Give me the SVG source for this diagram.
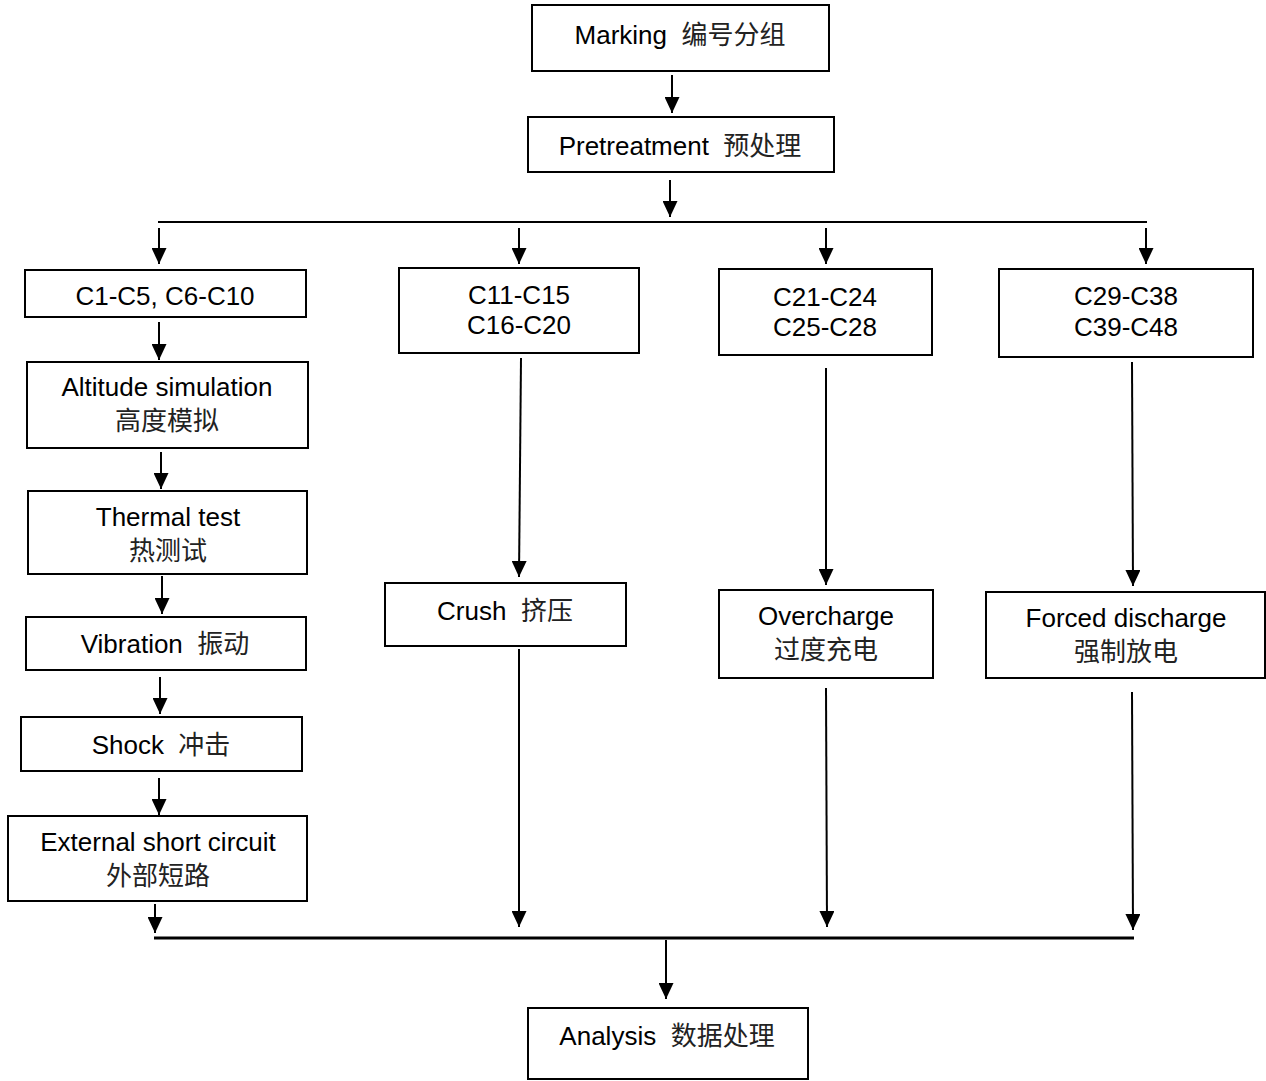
<svg xmlns="http://www.w3.org/2000/svg" width="1266" height="1081" viewBox="0 0 1266 1081">
<style>
  .box { fill: #ffffff; stroke: #000000; stroke-width: 2; }
  .t { font-family: "Liberation Sans", "Noto Sans CJK SC", sans-serif; font-size: 26px; fill: #000000; text-anchor: middle; white-space: pre; }
  .zh { font-family: "Noto Sans CJK SC", sans-serif; fill: #222222; }
  .ln { stroke: #000000; stroke-width: 2; fill: none; }
  .bus { stroke: #000000; stroke-width: 3; fill: none; }
</style>
<defs>
  <marker id="ah" markerUnits="userSpaceOnUse" markerWidth="16" markerHeight="15" refX="16" refY="7.5" orient="auto">
    <path d="M0,0 L16,7.5 L0,15 Z" fill="#000000"/>
  </marker>
</defs>
<rect width="1266" height="1081" fill="#ffffff"/>

<g id="connectors">
  <line class="ln" x1="672" y1="75" x2="672" y2="113" marker-end="url(#ah)"/>
  <line class="ln" x1="670" y1="180" x2="670" y2="217" marker-end="url(#ah)"/>
  <line class="ln" x1="158" y1="222" x2="1147" y2="222"/>
  <line class="ln" x1="159" y1="228" x2="159" y2="264" marker-end="url(#ah)"/>
  <line class="ln" x1="519" y1="228" x2="519" y2="264" marker-end="url(#ah)"/>
  <line class="ln" x1="826" y1="228" x2="826" y2="264" marker-end="url(#ah)"/>
  <line class="ln" x1="1146" y1="228" x2="1146" y2="264" marker-end="url(#ah)"/>
  <line class="ln" x1="159" y1="322" x2="159" y2="360" marker-end="url(#ah)"/>
  <line class="ln" x1="161" y1="452" x2="161" y2="489" marker-end="url(#ah)"/>
  <line class="ln" x1="162" y1="576" x2="162" y2="614" marker-end="url(#ah)"/>
  <line class="ln" x1="160" y1="677" x2="160" y2="714" marker-end="url(#ah)"/>
  <line class="ln" x1="159" y1="778" x2="159" y2="815" marker-end="url(#ah)"/>
  <line class="ln" x1="155" y1="904" x2="155" y2="933" marker-end="url(#ah)"/>
  <line class="ln" x1="521" y1="358" x2="519" y2="577" marker-end="url(#ah)"/>
  <line class="ln" x1="519" y1="649" x2="519" y2="927" marker-end="url(#ah)"/>
  <line class="ln" x1="826" y1="368" x2="826" y2="585" marker-end="url(#ah)"/>
  <line class="ln" x1="826" y1="688" x2="827" y2="927" marker-end="url(#ah)"/>
  <line class="ln" x1="1132" y1="362" x2="1133" y2="586" marker-end="url(#ah)"/>
  <line class="ln" x1="1132" y1="692" x2="1133" y2="930" marker-end="url(#ah)"/>
  <line class="bus" x1="154" y1="938" x2="1134" y2="938"/>
  <line class="ln" x1="666" y1="940" x2="666" y2="999" marker-end="url(#ah)"/>
</g>

<g id="marking">
  <rect class="box" x="532" y="5" width="297" height="66"/>
  <text class="t" x="680" y="44">Marking  <tspan class="zh">编号分组</tspan></text>
</g>
<g id="pretreatment">
  <rect class="box" x="528" y="117" width="306" height="55"/>
  <text class="t" x="680" y="155">Pretreatment  <tspan class="zh">预处理</tspan></text>
</g>
<g id="group1">
  <rect class="box" x="25" y="270" width="281" height="47"/>
  <text class="t" x="165" y="305">C1-C5, C6-C10</text>
</g>
<g id="group2">
  <rect class="box" x="399" y="268" width="240" height="85"/>
  <text class="t" x="519" y="304">C11-C15</text>
  <text class="t" x="519" y="334">C16-C20</text>
</g>
<g id="group3">
  <rect class="box" x="719" y="269" width="213" height="86"/>
  <text class="t" x="825" y="306">C21-C24</text>
  <text class="t" x="825" y="336">C25-C28</text>
</g>
<g id="group4">
  <rect class="box" x="999" y="269" width="254" height="88"/>
  <text class="t" x="1126" y="305">C29-C38</text>
  <text class="t" x="1126" y="336">C39-C48</text>
</g>
<g id="altitude">
  <rect class="box" x="27" y="362" width="281" height="86"/>
  <text class="t" x="167" y="396">Altitude simulation</text>
  <text class="t zh" x="167" y="430">高度模拟</text>
</g>
<g id="thermal">
  <rect class="box" x="28" y="491" width="279" height="83"/>
  <text class="t" x="168" y="526">Thermal test</text>
  <text class="t zh" x="168" y="560">热测试</text>
</g>
<g id="vibration">
  <rect class="box" x="26" y="617" width="280" height="53"/>
  <text class="t" x="165" y="653">Vibration  <tspan class="zh">振动</tspan></text>
</g>
<g id="shock">
  <rect class="box" x="21" y="717" width="281" height="54"/>
  <text class="t" x="161" y="754">Shock  <tspan class="zh">冲击</tspan></text>
</g>
<g id="external-short-circuit">
  <rect class="box" x="8" y="816" width="299" height="85"/>
  <text class="t" x="158" y="851">External short circuit</text>
  <text class="t zh" x="158" y="885">外部短路</text>
</g>
<g id="crush">
  <rect class="box" x="385" y="583" width="241" height="63"/>
  <text class="t" x="505" y="620">Crush  <tspan class="zh">挤压</tspan></text>
</g>
<g id="overcharge">
  <rect class="box" x="719" y="590" width="214" height="88"/>
  <text class="t" x="826" y="625">Overcharge</text>
  <text class="t zh" x="826" y="659">过度充电</text>
</g>
<g id="forced-discharge">
  <rect class="box" x="986" y="592" width="279" height="86"/>
  <text class="t" x="1126" y="627">Forced discharge</text>
  <text class="t zh" x="1126" y="661">强制放电</text>
</g>
<g id="analysis">
  <rect class="box" x="528" y="1008" width="280" height="71"/>
  <text class="t" x="667" y="1045">Analysis  <tspan class="zh">数据处理</tspan></text>
</g>
</svg>
